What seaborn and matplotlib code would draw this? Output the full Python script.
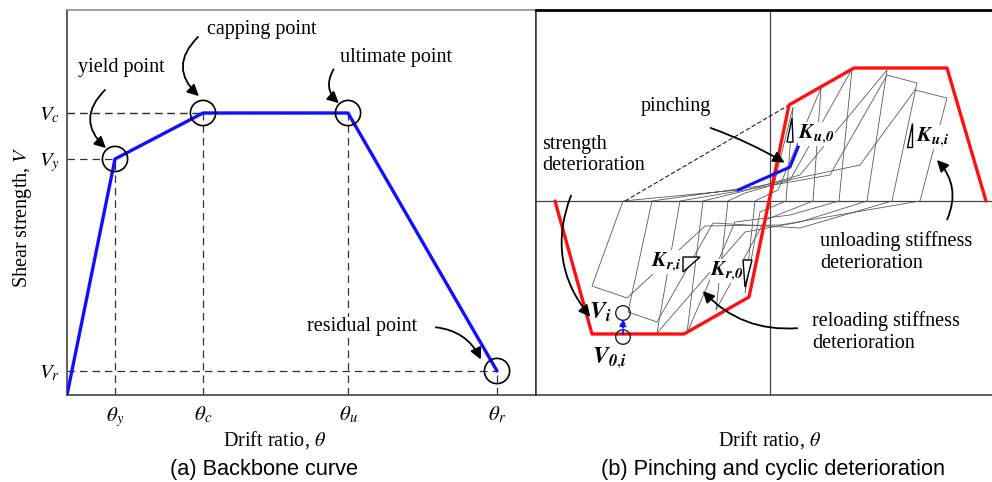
import matplotlib
matplotlib.use("Agg")
import matplotlib.pyplot as plt
import numpy as np
import pandas as pd
import seaborn as sns
from matplotlib.patches import Polygon

sns.set_theme(style="white")
plt.rcParams["font.family"] = ["Liberation Serif", "DejaVu Serif"]
plt.rcParams["mathtext.fontset"] = "stix"
plt.rcParams["text.color"] = "black"
plt.rcParams["axes.labelcolor"] = "black"
plt.rcParams["xtick.color"] = "black"
plt.rcParams["ytick.color"] = "black"

# ---------------- data: (a) backbone curve ----------------
drift_a = [0, 48, 136, 281, 430]          # origin, yield, capping, ultimate, residual
shear_a = [0, 236, 282, 282, 24]
xtick_pos = [48, 136, 281, 430]
xtick_labels = [r"$\theta_y$", r"$\theta_c$", r"$\theta_u$", r"$\theta_r$"]
ytick_pos = [24, 236, 282]
ytick_labels = [r"$V_r$", r"$V_y$", r"$V_c$"]
point_labels = ["yield point", "capping point", "ultimate point", "residual point"]

# ---------------- data: (b) pinching and cyclic deterioration ----------------
env_x = [-215, -178, -86, -21, 19, 84, 177, 216]
env_y = [0, -133, -133, -96, 96, 133, 133, 0]
pinch_x = [-32, 20, 31]
pinch_y = [11, 34, 61]
target_x = [-145, 19]
target_y = [0, 96]
cyc1_x = [0, 23, 16, -10, -25, -15]
cyc1_y = [0, 94, 0, -11, -92, 0]
cyc2_x = [-15, 8, 51, 43, -5, -54, -42]
cyc2_y = [0, 11, 113, 0, -19, -109, 0]
cyc3_x = [-42, -25, 20, 82, 69, 20, -35, -83, -67]
cyc3_y = [0, 8, 21, 132, 0, -14, -21, -132, 0]
cyc4_x = [-67, -30, 30, 117, 97, 30, -25, -113, -90]
cyc4_y = [0, 9, 26, 131, 0, -21, -31, -132, 0]
cyc5_x = [-90, -25, 60, 117, 147, 122, 30, -57, -113, -142, -118]
cyc5_y = [0, 11, 26, 126, 118, 0, -27, -22, -121, -111, 0]
cyc6_x = [-118, -10, 90, 145, 177, 150, 10, -65, -143, -178, -147, -32]
cyc6_y = [0, 15, 36, 111, 103, 0, -24, -25, -97, -85, 0, 11]
vi_x = [-147, -147]          # V_i and V_0,i markers
vi_y = [-112, -136]
tri_ku0 = [(17, 59), (23, 59), (22, 83)]
tri_kui = [(137, 54), (142, 54), (142, 78)]
tri_kri = [(-87, -56), (-70, -56), (-87, -71)]
tri_kr0 = [(-27, -59), (-18, -59), (-25, -86)]

fig = plt.figure(figsize=(9.92, 4.82), dpi=100)


def px_axes(x0, y0, x1, y1):
    return fig.add_axes([x0 / 992, 1 - y1 / 482, (x1 - x0) / 992, (y1 - y0) / 482])


BLUE = "#1010ff"
RED = "#ff1010"
GRAY = "#5a5a5a"
FS = 14.5

# ================= panel (a) =================
ax1 = px_axes(67, 10, 536, 395)
ax1.set_xlim(0, 469)
ax1.set_ylim(0, 385)

dash_kw = dict(color="#333333", lw=0.9, dashes=(6, 4))
for xv, yv in zip(drift_a[1:], shear_a[1:]):
    ax1.plot([0, xv], [yv, yv], **dash_kw)
    ax1.plot([xv, xv], [0, yv], **dash_kw)

df_a = pd.DataFrame({"drift": drift_a, "shear": shear_a})
sns.lineplot(data=df_a, x="drift", y="shear", sort=False, estimator=None,
             color=BLUE, lw=2.4, ax=ax1, zorder=3)
sns.scatterplot(data=df_a.iloc[1:], x="drift", y="shear", s=330, marker="o",
                facecolor="none", edgecolor="black", linewidth=1.2, ax=ax1, zorder=4)

ax1.set_xticks(xtick_pos)
ax1.set_xticklabels(xtick_labels, fontsize=15)
ax1.set_yticks(ytick_pos)
ax1.set_yticklabels(ytick_labels, fontsize=15)
ax1.tick_params(axis="x", length=0, pad=7)
ax1.tick_params(axis="y", length=0, pad=5)
ax1.set_xlabel(r"Drift ratio, $\theta$", fontsize=FS)
ax1.set_ylabel(r"Shear strength, $V$", fontsize=FS)
ax1.xaxis.set_label_coords((275 - 67) / 469, (395 - 440) / 385)
ax1.xaxis.label.set_va("center")
ax1.yaxis.set_label_coords((22 - 67) / 469, (395 - 217) / 385)
ax1.yaxis.label.set_va("center")
for side in ["left", "bottom", "right"]:
    ax1.spines[side].set_color("#333333")
    ax1.spines[side].set_linewidth(1.1)
ax1.spines["top"].set_color("#888888")
ax1.spines["top"].set_linewidth(1.1)

arrow_kw = dict(arrowstyle="-|>", color="black", lw=1.3, mutation_scale=17)
ann_a = [
    (point_labels[0], (121, 68), (107, 88), (108, 150), 0.55),
    (point_labels[1], (262, 30), (200, 35), (201, 98), 0.55),
    (point_labels[2], (396, 58), (335, 67), (341, 105), 0.45),
    (point_labels[3], (362, 327), (433, 327), (482, 362), -0.3),
]
for txt, tpos, start, end, rad in ann_a:
    # text / arrow positions read in image pixels -> data units of panel (a)
    ax1.text(tpos[0] - 67, 395 - tpos[1], txt, fontsize=FS, ha="center", va="center",
             bbox=dict(facecolor="white", edgecolor="none", pad=0.5), zorder=5)
    ax1.annotate("", xy=(end[0] - 67, 395 - end[1]), xytext=(start[0] - 67, 395 - start[1]),
                 arrowprops=dict(connectionstyle=f"arc3,rad={rad}", **arrow_kw), zorder=5)

# ================= panel (b) =================
ax2 = px_axes(536, 10, 992, 395)
ax2.set_xlim(-234, 222)
ax2.set_ylim(-194, 191)
ax2.axhline(0, color="#444444", lw=0.9)
ax2.axvline(0, color="#444444", lw=0.9)

cycles = [(cyc1_x, cyc1_y), (cyc2_x, cyc2_y), (cyc3_x, cyc3_y),
          (cyc4_x, cyc4_y), (cyc5_x, cyc5_y), (cyc6_x, cyc6_y)]
rows = []
for k, (cx, cy) in enumerate(cycles):
    for i, (a, b) in enumerate(zip(cx, cy)):
        rows.append({"cycle": k, "step": i, "x": a, "y": b})
df_loops = pd.DataFrame(rows)
sns.lineplot(data=df_loops, x="x", y="y", units="cycle", estimator=None, sort=False,
             color=GRAY, lw=0.6, ax=ax2, zorder=2)

sns.lineplot(x=target_x, y=target_y, sort=False, estimator=None, color="#222222",
             lw=0.8, ax=ax2, zorder=2).lines[-1].set_dashes((4, 2))
sns.lineplot(x=env_x, y=env_y, sort=False, estimator=None, color=RED, lw=2.4,
             ax=ax2, zorder=4)
sns.lineplot(x=pinch_x, y=pinch_y, sort=False, estimator=None, color=BLUE, lw=2.2,
             ax=ax2, zorder=5)

sns.scatterplot(x=vi_x, y=vi_y, s=110, marker="o", facecolor="none",
                edgecolor="#222222", linewidth=1.0, ax=ax2, zorder=6)
ax2.annotate("", xy=(vi_x[0], vi_y[0] - 3), xytext=(vi_x[1], vi_y[1]),
             arrowprops=dict(arrowstyle="-|>", color=BLUE, lw=1.3, ls=(0, (2, 1.5)),
                             mutation_scale=10), zorder=6)

for tri in [tri_ku0, tri_kui, tri_kri, tri_kr0]:
    ax2.add_patch(Polygon(tri, closed=True, facecolor="white", edgecolor="black",
                          lw=1.0, zorder=8))

box = dict(facecolor="white", edgecolor="none", pad=0.3)
ax2.text(28, 67, r"$\mathbfit{K}_{\mathbfit{u}{,}\mathbfit{0}}$", fontsize=15.5,
         va="center", ha="left", zorder=6, bbox=box)
ax2.text(146, 64, r"$\mathbfit{K}_{\mathbfit{u}{,}\mathbfit{i}}$", fontsize=15.5,
         va="center", ha="left", zorder=6, bbox=box)
ax2.text(-119, -61, r"$\mathbfit{K}_{\mathbfit{r}{,}\mathbfit{i}}$", fontsize=15.5,
         va="center", ha="left", zorder=6, bbox=box)
ax2.text(-60, -70, r"$\mathbfit{K}_{\mathbfit{r}{,}\mathbfit{0}}$", fontsize=15.5,
         va="center", ha="left", zorder=6, bbox=box)
ax2.text(-181, -111, r"$\mathbfit{V}_{\mathbfit{i}}$", fontsize=17, va="center", ha="left",
         zorder=6)
ax2.text(-178, -157, r"$\mathbfit{V}_{\mathbfit{0}{,}\mathbfit{i}}$", fontsize=17,
         va="center", ha="left", zorder=6)

txt_kw = dict(fontsize=FS, ha="left", va="center", linespacing=1.15, zorder=6)
ax2.text(-94, 95, "pinching", fontsize=FS, ha="center", va="center", zorder=6)
ax2.text(-228, 46, "strength\ndeterioration", **txt_kw)
ax2.text(50, -51, "unloading stiffness\ndeterioration", **txt_kw)
ax2.text(42, -131, "reloading stiffness\ndeterioration", **txt_kw)

ann_b = [
    ((-62, 74), (17, 37), -0.05),
    ((-198, 8), (-178, -118), 0.3),
    ((176, -21), (165, 43), 0.35),
    ((30, -127), (-69, -88), -0.25),
]
for start, end, rad in ann_b:
    ax2.annotate("", xy=end, xytext=start,
                 arrowprops=dict(connectionstyle=f"arc3,rad={rad}", **arrow_kw), zorder=7)

ax2.set_xticks([])
ax2.set_yticks([])
ax2.set_xlabel(r"Drift ratio, $\theta$", fontsize=FS)
ax2.set_ylabel("")
ax2.xaxis.set_label_coords((770 - 536) / 456, (395 - 440) / 385)
ax2.xaxis.label.set_va("center")
ax2.spines["right"].set_visible(False)
ax2.spines["left"].set_color("#333333")
ax2.spines["left"].set_linewidth(1.1)
ax2.spines["bottom"].set_color("#333333")
ax2.spines["bottom"].set_linewidth(1.1)
ax2.spines["top"].set_color("black")
ax2.spines["top"].set_linewidth(2.0)

fig.text(264 / 992, 1 - 470 / 482, "(a) Backbone curve", fontsize=15.7, color="black",
         family=["Liberation Sans", "DejaVu Sans"], ha="center", va="center")
fig.text(773 / 992, 1 - 470 / 482, "(b) Pinching and cyclic deterioration", fontsize=15.7,
         color="black", family=["Liberation Sans", "DejaVu Sans"], ha="center", va="center")

fig.savefig("out.png", dpi=100)
